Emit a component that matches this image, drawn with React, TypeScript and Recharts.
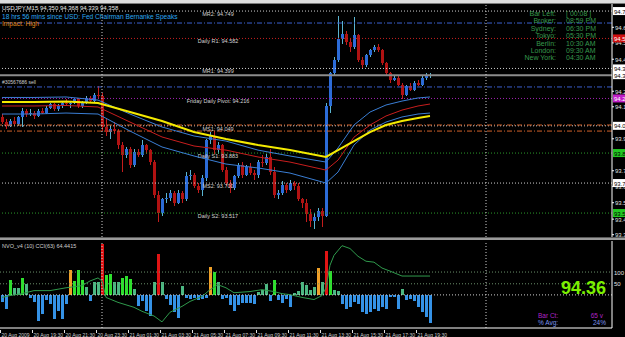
import React from "react";
import { ComposedChart, Bar, Line, XAxis, YAxis, ReferenceLine } from "recharts";

const FONT = "'Liberation Sans', Arial, sans-serif";
const SLOTS = 153; // 612px plot / 4px per M15 bar

// USDJPY M15 candles, first bar 20 Aug 2009 17:30
const opens = [
  94.10, 94.07, 94.05, 94.08, 94.06, 94.10, 94.14, 94.12, 94.13, 94.11,
  94.14, 94.13, 94.16, 94.18, 94.15, 94.17, 94.19, 94.18, 94.19, 94.21,
  94.17, 94.19, 94.22, 94.20, 94.24, 94.23, 94.04, 94.01, 94.03, 94.02,
  93.93, 93.87, 93.91, 93.81, 93.89, 93.87, 93.93, 93.90, 93.83, 93.63,
  93.52, 93.60, 93.61, 93.64, 93.58, 93.64, 93.60, 93.74, 93.75, 93.68,
  93.66, 93.73, 93.96, 93.99, 93.90, 93.93, 93.78, 93.70, 93.67, 93.74,
  93.81, 93.75, 93.80, 93.76, 93.75, 93.83, 93.82, 93.86, 93.77, 93.63,
  93.64, 93.69, 93.66, 93.70, 93.68, 93.60, 93.58, 93.51, 93.47, 93.49,
  93.53, 93.50, 94.17, 94.37, 94.45, 94.58, 94.61, 94.56, 94.53, 94.60,
  94.45, 94.42, 94.48, 94.51, 94.53, 94.51, 94.43, 94.37, 94.33, 94.34,
  94.30, 94.24, 94.29, 94.27, 94.31, 94.30, 94.34, 94.36,
];
const highs = [
  94.12, 94.09, 94.09, 94.10, 94.11, 94.16, 94.15, 94.15, 94.14, 94.15,
  94.16, 94.17, 94.19, 94.19, 94.18, 94.20, 94.21, 94.20, 94.22, 94.22,
  94.20, 94.23, 94.23, 94.25, 94.29, 94.25, 94.09, 94.05, 94.07, 94.03,
  93.95, 93.92, 93.92, 93.91, 93.91, 93.96, 93.94, 93.91, 93.84, 93.65,
  93.61, 93.64, 93.66, 93.65, 93.66, 93.65, 93.77, 93.78, 93.76, 93.70,
  93.75, 93.97, 94.01, 94.02, 93.95, 93.94, 93.80, 93.72, 93.75, 93.82,
  93.83, 93.81, 93.82, 93.78, 93.84, 93.87, 93.88, 93.91, 93.80, 93.66,
  93.71, 93.70, 93.72, 93.71, 93.70, 93.61, 93.60, 93.54, 93.52, 93.55,
  93.55, 94.19, 94.38, 94.47, 94.72, 94.69, 94.63, 94.58, 94.71, 94.61,
  94.47, 94.49, 94.52, 94.54, 94.55, 94.52, 94.44, 94.38, 94.35, 94.35,
  94.31, 94.30, 94.31, 94.32, 94.33, 94.35, 94.37, 94.37,
];
const lows = [
  94.06, 94.03, 94.04, 94.05, 94.05, 94.04, 94.10, 94.11, 94.09, 94.10,
  94.12, 94.12, 94.15, 94.14, 94.14, 94.16, 94.17, 94.16, 94.18, 94.16,
  94.16, 94.18, 94.19, 94.19, 94.22, 94.02, 93.99, 93.97, 94.00, 93.91,
  93.77, 93.85, 93.79, 93.80, 93.86, 93.86, 93.88, 93.81, 93.61, 93.46,
  93.50, 93.58, 93.59, 93.56, 93.57, 93.58, 93.59, 93.72, 93.67, 93.64,
  93.62, 93.71, 93.94, 93.88, 93.88, 93.77, 93.68, 93.64, 93.66, 93.73,
  93.73, 93.74, 93.75, 93.72, 93.73, 93.80, 93.81, 93.75, 93.61, 93.60,
  93.63, 93.64, 93.65, 93.66, 93.59, 93.55, 93.46, 93.43, 93.42, 93.47,
  93.43, 93.49, 94.13, 94.35, 94.44, 94.55, 94.54, 94.50, 94.52, 94.44,
  94.40, 94.41, 94.47, 94.50, 94.50, 94.42, 94.36, 94.31, 94.32, 94.29,
  94.21, 94.23, 94.26, 94.26, 94.29, 94.29, 94.33, 94.34,
];
const closes = [
  94.07, 94.05, 94.08, 94.06, 94.10, 94.14, 94.12, 94.13, 94.11, 94.14,
  94.13, 94.16, 94.18, 94.15, 94.17, 94.19, 94.18, 94.19, 94.21, 94.17,
  94.19, 94.22, 94.20, 94.24, 94.23, 94.04, 94.01, 94.03, 94.02, 93.93,
  93.87, 93.91, 93.81, 93.89, 93.87, 93.93, 93.90, 93.83, 93.63, 93.52,
  93.60, 93.61, 93.64, 93.58, 93.64, 93.60, 93.74, 93.75, 93.68, 93.66,
  93.73, 93.96, 93.99, 93.90, 93.93, 93.78, 93.70, 93.67, 93.74, 93.81,
  93.75, 93.80, 93.76, 93.75, 93.83, 93.82, 93.86, 93.77, 93.63, 93.64,
  93.69, 93.66, 93.70, 93.68, 93.60, 93.58, 93.51, 93.47, 93.49, 93.53,
  93.50, 94.17, 94.37, 94.45, 94.58, 94.61, 94.56, 94.53, 94.60, 94.45,
  94.42, 94.48, 94.51, 94.53, 94.51, 94.43, 94.37, 94.33, 94.34, 94.30,
  94.24, 94.29, 94.27, 94.31, 94.30, 94.34, 94.36, 94.358,
];

// moving averages / envelope, read at these bars
const maBars = [0, 8, 16, 24, 32, 40, 48, 56, 64, 72, 81, 84, 88, 92, 96, 100, 104, 107];
const maYellow = [94.194, 94.194, 94.197, 94.188, 94.133, 94.078, 94.011, 93.969, 93.932, 93.901, 93.859, 93.901, 93.955, 94.011, 94.054, 94.078, 94.097, 94.109];
const maRed = [94.170, 94.170, 94.173, 94.164, 94.072, 93.981, 93.926, 93.901, 93.859, 93.828, 93.779, 93.840, 93.980, 94.054, 94.109, 94.145, 94.170, 94.182];
const maBlueUp = [94.222, 94.222, 94.225, 94.206, 94.121, 94.042, 93.987, 93.956, 93.901, 93.865, 93.828, 93.914, 94.054, 94.133, 94.176, 94.200, 94.219, 94.225];
const maBlueLo = [94.121, 94.121, 94.127, 94.121, 94.017, 93.920, 93.865, 93.816, 93.792, 93.761, 93.700, 93.767, 93.932, 94.023, 94.072, 94.103, 94.121, 94.127];

// pivot levels
const levelNames = ["MR2", "Daily R1", "MR1", "Friday Daily Pivot", "MS1", "Daily S1", "MS2", "Daily S2"];
const levelPrices = [94.749, 94.582, 94.399, 94.216, 94.049, 93.883, 93.700, 93.517];
const bidPrice = 94.358;
const sellOrder = 94.286;
const blueLevel = 94.676;
const orangeLevels = [94.054, 94.017];
const priceTicks = [94.650, 94.555, 94.455, 94.260, 94.165, 93.970, 93.775, 93.680, 93.580, 93.480, 93.385];

// NVO_v4 histogram (g strong up, s up, r spike, o warning, b down)
const nvo = [
  -18, -37, 39, 18, 18, 45, 29, -8, -18, -68,
  -50, -13, -24, -63, -42, -63, -24, 65, 37, 65,
  39, 21, -16, 34, 34, 133, 52, 55, 34, 34,
  45, 50, 42, 16, -29, -16, -42, -55, 34, 107,
  34, -10, -26, -45, -60, 24, -8, -10, -8, -13,
  -10, -8, 73, 60, 34, -10, -8, -26, -42, -26,
  -21, -21, -21, -24, 8, 13, 29, -16, 39, -13,
  -21, -10, -31, 5, 10, 34, 26, 13, 21, 71,
  34, 115, 63, 13, 10, -24, -37, -31, -18, -24,
  -45, -50, -45, -37, -42, -31, -37, -5, -5, -37,
  16, -13, -10, -16, -31, -45, -58, -73,
];
const nvoKind = (
  "bbgssgsbbb" + "bbbbbbbogg" + "gsbssrggss" + "gggsbbbbsr" + "sbbbbsbbbb" +
  "bbogsbbbbb" + "bbbbsssbgb" + "bbbsssssso" + "srgssbbbbb" + "bbbbbbbbbb" + "sbbbbbbb"
).split("");
const nvoRange = [-86.68, 141.136];

// CCI(63)
const cciBars = [0, 2, 5, 8, 12, 16, 20, 22, 24, 25, 26, 29, 33, 35, 38, 40, 42, 45, 47, 50, 52, 54, 56, 58, 62, 65, 68, 70, 72, 75, 78, 80, 81, 82, 83, 85, 87, 89, 91, 93, 95, 97, 100, 103, 107];
const cciVals = [-8, 0, 8, 21, 21, 33, 42, 62, 75, 62, -8, -29, -50, -67, -87, -112, -71, -46, -25, -4, 25, 46, 33, 12, 17, 25, 17, 8, 4, -8, -17, 0, 33, 129, 171, 212, 200, 167, 146, 142, 117, 104, 83, 83, 83];
const cciLevels = [100, 50];

const timeLabels = [
  "20 Aug 2009", "20 Aug 19:30", "20 Aug 21:30", "20 Aug 23:30", "21 Aug 01:30",
  "21 Aug 03:30", "21 Aug 05:30", "21 Aug 07:30", "21 Aug 09:30", "21 Aug 11:30",
  "21 Aug 13:30", "21 Aug 15:30", "21 Aug 17:30", "21 Aug 19:30",
];
const daySeparators = [25, 121];

const infoLabels = ["Bar Left:", "Broker:", "Sydney:", "Tokyo:", "Berlin:", "London:", "New York:"];
const infoValues = ["[ 00:08 ]", "08:59 PM", "06:30 PM", "05:30 PM", "10:30 AM", "09:30 AM", "04:30 AM"];

const kindColor: Record<string, string> = {
  g: "#2ee02e",
  s: "#4cb882",
  r: "#e01414",
  o: "#f0a028",
  b: "#3592e6",
};
const levelColor = ["#cfcfcf", "#c82020", "#cfcfcf", "#a424b4", "#cfcfcf", "#2a9a2a", "#cfcfcf", "#2a9a2a"];
const tagFill = ["#ffffff", "#d01010", "#ffffff", "#c020c8", "#ffffff", "#22c822", "#ffffff", "#22c822"];

const rows: any[] = Array.from({ length: SLOTS }, (_, i) => {
  const r: any = { i };
  if (i < closes.length) {
    r.range = [lows[i], highs[i]];
    r.o = opens[i];
    r.h = highs[i];
    r.l = lows[i];
    r.c = closes[i];
    r.nvo = nvo[i];
    r.kind = nvoKind[i];
  }
  return r;
});
maBars.forEach((b, k) => {
  rows[b].yel = maYellow[k];
  rows[b].red = maRed[k];
  rows[b].bup = maBlueUp[k];
  rows[b].blo = maBlueLo[k];
});
cciBars.forEach((b, k) => {
  rows[b].cci = cciVals[k];
});

const Candle = (props: any) => {
  const { x, y, width, height, payload } = props;
  if (!payload || payload.range == null) return <g />;
  const { o, h, l, c } = payload;
  const top = Math.min(y, y + height);
  const hh = Math.abs(height);
  const span = h - l || 1e-9;
  const py = (p: number) => top + ((h - p) / span) * hh;
  const x0 = Math.round(x + (width - 3) / 2);
  const up = c > o;
  const doji = Math.abs(c - o) < 0.004;
  const body = doji ? "#58b8cc" : up ? "#2c6cd8" : "#b01212";
  const wick = doji || up ? "#5ab4d0" : "#c41c1c";
  const bt = py(Math.max(o, c));
  const bb = py(Math.min(o, c));
  return (
    <g shapeRendering="crispEdges">
      <line x1={x0 + 1.5} x2={x0 + 1.5} y1={py(h)} y2={py(l)} stroke={wick} strokeWidth={1} />
      <rect x={x0} y={bt} width={3} height={Math.max(bb - bt, 1)} fill={body} />
    </g>
  );
};

const HistBar = (props: any) => {
  const { x, y, width, height, payload } = props;
  if (!payload || payload.nvo == null) return <g />;
  const top = Math.min(y, y + height);
  return (
    <rect
      x={Math.round(x + (width - 3) / 2)}
      y={top}
      width={3}
      height={Math.max(Math.abs(height), 1)}
      fill={kindColor[payload.kind]}
      shapeRendering="crispEdges"
    />
  );
};

const PriceTick = (props: any) => {
  const { y, payload } = props;
  const v = payload.value;
  const k = levelPrices.indexOf(v);
  const isBid = v === bidPrice;
  const label = v.toFixed(3);
  if (k >= 0 || isBid) {
    const fill = isBid ? "#ffffff" : tagFill[k];
    const dark = fill === "#ffffff" || fill === "#22c822";
    return (
      <g>
        <rect x={613} y={y - 4} width={14} height={8} fill={fill} />
        <text x={614} y={y + 2.5} fontSize={6} fontFamily={FONT} fill={dark ? "#000" : "#fff"}>
          {label}
        </text>
      </g>
    );
  }
  return (
    <g>
      <line x1={612} x2={614} y1={y} y2={y} stroke="#fff" />
      <text x={615} y={y + 2.5} fontSize={6} fontFamily={FONT} fill="#e0e0e0">
        {label}
      </text>
    </g>
  );
};

const NvoTick = (props: any) => {
  const { y, payload } = props;
  const v = payload.value;
  const yy = Math.max(245, Math.min(324, y));
  return (
    <text x={614} y={yy + 2.5} fontSize={6} fontFamily={FONT} fill="#e0e0e0">
      {v === 0 ? "0.00" : v.toFixed(3)}
    </text>
  );
};

const TimeTick = (props: any) => {
  const { x, y, payload } = props;
  const k = payload.value / 8;
  const label = Number.isInteger(k) ? timeLabels[k] : undefined;
  if (!label) return <g />;
  const left = Math.round(x - 2) + 0.5;
  return (
    <g>
      <line x1={left} x2={left} y1={y} y2={y + 3} stroke="#e0e0e0" />
      <text x={left + 1} y={y + 7} fontSize={5} fontFamily={FONT} fill="#d0d0d0">
        {label}
      </text>
    </g>
  );
};

const levelLabel = (text: string) => (p: any) => {
  const vb = p.viewBox || {};
  return (
    <text x={218} y={(vb.y ?? 0) + 5} textAnchor="middle" fontSize={5.5} fontFamily={FONT} fill="#d4d4d4">
      {text}
    </text>
  );
};

const rightLabel = (text: string) => (p: any) => {
  const vb = p.viewBox || {};
  return (
    <text x={614} y={(vb.y ?? 0) + 2.5} fontSize={6} fontFamily={FONT} fill="#e0e0e0">
      {text}
    </text>
  );
};

export default function App() {
  return (
    <div
      style={{
        position: "fixed",
        left: 0,
        top: 0,
        width: 625,
        height: 337,
        background: "#000",
        overflow: "hidden",
        fontFamily: FONT,
      }}
    >
      <div style={{ position: "absolute", left: 0, top: 0, width: 625, height: 3, background: "#dcdcdc" }} />
      <div style={{ position: "absolute", left: 0, top: 3, width: 625, height: 1, background: "#7a7a7a" }} />

      <div style={{ position: "absolute", left: 0, top: 4 }}>
        <ComposedChart
          width={625}
          height={233}
          data={rows}
          margin={{ top: 0, right: 0, bottom: 0, left: 0 }}
          barCategoryGap={0}
          barGap={0}
        >
          <XAxis dataKey="i" type="category" hide />
          <YAxis
            orientation="right"
            width={13}
            domain={[93.371, 94.792]}
            allowDataOverflow
            ticks={[...priceTicks, ...levelPrices, bidPrice]}
            interval={0}
            tick={<PriceTick />}
            tickLine={false}
            axisLine={{ stroke: "#ffffff" }}
          />

          {levelPrices.map((p, k) => (
            <ReferenceLine
              key={levelNames[k]}
              y={p}
              stroke={levelColor[k]}
              strokeDasharray="1 2"
              label={levelLabel(`${levelNames[k]}: ${p.toFixed(3)}`)}
            />
          ))}
          <ReferenceLine y={blueLevel} stroke="#3a5fcd" strokeDasharray="5 2 1 2" />
          <ReferenceLine y={sellOrder} stroke="#3a5fcd" strokeDasharray="5 2 1 2" />
          {orangeLevels.map((p) => (
            <ReferenceLine key={p} y={p} stroke="#d0602a" strokeDasharray="5 2 1 2" />
          ))}
          <ReferenceLine y={bidPrice} stroke="#8c8c8c" strokeWidth={2} />
          {daySeparators.map((d) => (
            <ReferenceLine key={d} x={d} stroke="#d0d0d0" strokeDasharray="1 2" />
          ))}

          <Bar dataKey="range" shape={(p: any) => <Candle {...p} />} isAnimationActive={false} />

          <Line dataKey="bup" stroke="#3a7ed4" strokeWidth={1} dot={false} activeDot={false} connectNulls isAnimationActive={false} />
          <Line dataKey="blo" stroke="#3a7ed4" strokeWidth={1} dot={false} activeDot={false} connectNulls isAnimationActive={false} />
          <Line dataKey="red" stroke="#c81e1e" strokeWidth={1} dot={false} activeDot={false} connectNulls isAnimationActive={false} />
          <Line dataKey="yel" stroke="#f4ea00" strokeWidth={2} dot={false} activeDot={false} connectNulls isAnimationActive={false} />
        </ComposedChart>
      </div>

      <div style={{ position: "absolute", left: 0, top: 237, width: 625, height: 1, background: "#5a5a5a" }} />
      <div style={{ position: "absolute", left: 0, top: 238, width: 625, height: 2, background: "#9a9a9a" }} />

      <div style={{ position: "absolute", left: 0, top: 241 }}>
        <ComposedChart
          width={625}
          height={96}
          data={rows}
          margin={{ top: 0, right: 0, bottom: 0, left: 0 }}
          barCategoryGap={0}
          barGap={0}
        >
          <XAxis
            dataKey="i"
            type="category"
            height={9}
            interval={7}
            tick={<TimeTick />}
            tickLine={false}
            tickSize={0}
            axisLine={{ stroke: "#ffffff" }}
          />
          <YAxis
            yAxisId="n"
            orientation="right"
            width={13}
            domain={nvoRange}
            allowDataOverflow
            ticks={[nvoRange[1], 0, nvoRange[0]]}
            interval={0}
            tick={<NvoTick />}
            tickLine={false}
            axisLine={{ stroke: "#ffffff" }}
          />
          <YAxis yAxisId="c" hide domain={[-138, 232]} allowDataOverflow />

          {cciLevels.map((v) => (
            <ReferenceLine
              key={v}
              yAxisId="c"
              y={v}
              stroke="#6a8f6a"
              strokeDasharray="1 2"
              label={rightLabel(String(v))}
            />
          ))}
          <ReferenceLine yAxisId="n" y={0} stroke="#cfcfcf" strokeDasharray="1 2" />
          {daySeparators.map((d) => (
            <ReferenceLine key={d} yAxisId="n" x={d} stroke="#d0d0d0" strokeDasharray="1 2" />
          ))}

          <Bar yAxisId="n" dataKey="nvo" shape={(p: any) => <HistBar {...p} />} isAnimationActive={false} />
          <Line
            yAxisId="c"
            dataKey="cci"
            stroke="#2f9a4c"
            strokeWidth={1}
            dot={false}
            activeDot={false}
            connectNulls
            isAnimationActive={false}
          />
        </ComposedChart>
      </div>

      <svg
        width={625}
        height={337}
        style={{ position: "absolute", left: 0, top: 0, pointerEvents: "none" }}
        fontFamily={FONT}
      >
        <text x={2} y={9.5} fontSize={6} fill="#e6e6e6">
          USDJPY,M15  94.350 94.368 94.339 94.358
        </text>
        <text x={2} y={18.5} fontSize={6.6} fill="#2aa6f0">
          18 hrs 56 mins since USD: Fed Chairman Bernanke Speaks
        </text>
        <text x={2} y={26} fontSize={6.6} fill="#e08a1e">
          Impact: High
        </text>
        <text x={2} y={84} fontSize={5} fill="#d0d0d0">
          #30567686 sell
        </text>

        {infoLabels.map((t, k) => (
          <g key={t}>
            <text x={556} y={16 + k * 7.4} fontSize={7} textAnchor="end" fill="#36984c">
              {t}
            </text>
            <text x={566} y={16 + k * 7.4} fontSize={7} fill="#36984c">
              {infoValues[k]}
            </text>
          </g>
        ))}

        <text x={2} y={247.5} fontSize={5.5} fill="#cfcfcf">
          NVO_v4 (10)  CCI(63) 64.4415
        </text>
        <text x={606} y={294} fontSize={18} fontWeight="bold" textAnchor="end" fill="#7cf000">
          94.36
        </text>
        <text x={538} y={317.5} fontSize={6.5} fill="#b024c4">
          Bar Ct:
        </text>
        <text x={603} y={317.5} fontSize={6.5} textAnchor="end" fill="#b024c4">
          65 v
        </text>
        <text x={538} y={324.5} fontSize={6.5} fill="#7b94ec">
          % Avg:
        </text>
        <text x={606} y={324.5} fontSize={6.5} textAnchor="end" fill="#7b94ec">
          24%
        </text>
      </svg>
    </div>
  );
}
